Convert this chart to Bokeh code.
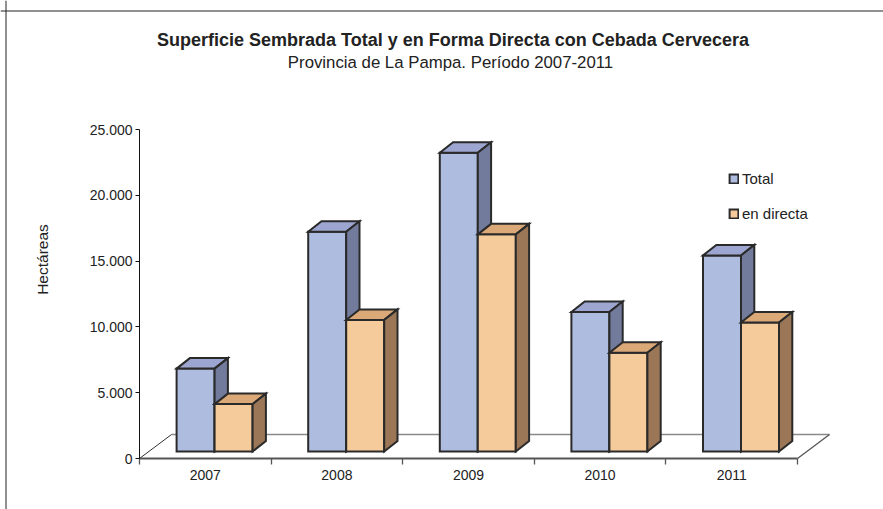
import numpy as np
from bokeh.plotting import figure
from bokeh.models import (Range1d, LinearAxis, FixedTicker, Label, Legend,
                          LegendItem, Span)
from bokeh.embed import file_html
from bokeh.resources import INLINE

# ---------------- data ----------------
years = ["2007", "2008", "2009", "2010", "2011"]
total = [6300, 16700, 22700, 10600, 14900]
directa = [3600, 10000, 16500, 7500, 9800]
y_ticks = [0, 5000, 10000, 15000, 20000, 25000]
y_tick_labels = ["0", "5.000", "10.000", "15.000", "20.000", "25.000"]

title = "Superficie Sembrada Total y en Forma Directa con Cebada Cervecera"
subtitle = "Provincia de La Pampa. Período 2007-2011"
series_names = ["Total", "en directa"]

# ---------------- layout constants (pixels on the canvas) ----------------
W, H = 883, 509
X0_PX = 139.0        # canvas x of category axis start
CAT_PX = 131.6       # pixels per category
Y0_PX = 458.0        # canvas y (from top) of value 0
YMAX = 25000
YSPAN_PX = 329.0
UPP = YMAX / YSPAN_PX  # value units per pixel

x_start = -X0_PX / CAT_PX
x_end = (W - X0_PX) / CAT_PX
y_start = -(H - Y0_PX) * UPP
y_end = Y0_PX * UPP


def px2x(cx):
    return (cx - X0_PX) / CAT_PX


def py2y(cy):
    return (Y0_PX - cy) * UPP


# 3-D geometry in data units
FDX, FDY = 32 / CAT_PX, 24 * UPP        # floor depth
BOX, BOY = 9.3 / CAT_PX, 7 * UPP        # bar front offset on floor
BDX, BDY = 13.3 / CAT_PX, 10.5 * UPP    # bar depth
BW = 38 / CAT_PX                        # bar width

FONT = "Liberation Sans"
TXT = "#222222"
EDGE = "#2a2a2a"

p = figure(width=W, height=H, output_backend="svg", toolbar_location=None,
           x_range=Range1d(x_start, x_end), y_range=Range1d(y_start, y_end),
           x_axis_location=None, y_axis_location=None, min_border=0,
           background_fill_color="white", border_fill_color="white",
           outline_line_color=None, tools="")
p.grid.visible = False

# outer frame of the chart (left and top edges)
p.add_layout(Span(location=px2x(5.5), dimension="height", line_color="#222222", line_width=1))
p.add_layout(Span(location=py2y(10.5), dimension="width", line_color="#222222", line_width=1))

n = len(years)
# floor
p.patch([0, n, n + FDX, FDX], [0, 0, FDY, FDY], fill_color="white", line_color=None)
p.line([FDX, n + FDX], [FDY, FDY], line_color="#8a8a8a", line_width=1.6)
p.line([0, FDX], [0, FDY], line_color="#333333", line_width=1)
p.line([n, n + FDX], [0, FDY], line_color="#555555", line_width=1.3)


def bar_faces(values, left_off):
    lefts, rights, bottoms, tops = [], [], [], []
    top_xs, top_ys, side_xs, side_ys = [], [], [], []
    for i, v in enumerate(values):
        l = i + 0.5 + BOX + left_off
        r = l + BW
        b = BOY
        t = BOY + v
        lefts.append(l); rights.append(r); bottoms.append(b); tops.append(t)
        top_xs.append([l, r, r + BDX, l + BDX])
        top_ys.append([t, t, t + BDY, t + BDY])
        side_xs.append([r, r + BDX, r + BDX, r])
        side_ys.append([b, b + BDY, t + BDY, t])
    return lefts, rights, bottoms, tops, top_xs, top_ys, side_xs, side_ys


styles = [
    (total, -BW, "#AEBDDF", "#9CA6D0", "#737B9D"),
    (directa, 0.0, "#F6CB9B", "#DBA878", "#9B7757"),
]
fronts = []
for vals, off, c_front, c_top, c_side in styles:
    l, r, b, t, tx, ty, sx, sy = bar_faces(vals, off)
    fr = p.quad(left=l, right=r, bottom=b, top=t, fill_color=c_front,
                line_color=EDGE, line_width=2, line_join="miter")
    p.patches(tx, ty, fill_color=c_top, line_color=EDGE, line_width=2, line_join="miter")
    p.patches(sx, sy, fill_color=c_side, line_color=EDGE, line_width=2, line_join="miter")
    fronts.append(fr)

# y axis
yaxis = LinearAxis(fixed_location=0, bounds=(0, YMAX),
                   ticker=FixedTicker(ticks=y_ticks),
                   major_label_overrides={k: v for k, v in zip(y_ticks, y_tick_labels)},
                   axis_line_color="#111111", axis_line_width=1,
                   major_tick_line_color="#111111", major_tick_out=4, major_tick_in=0,
                   minor_tick_out=0, minor_tick_in=0,
                   major_label_standoff=3,
                   major_label_text_font=FONT, major_label_text_font_size="14px",
                   major_label_text_color=TXT)
p.add_layout(yaxis, "left")

# x axis line with category boundary ticks
xaxis = LinearAxis(fixed_location=0, bounds=(0, n),
                   ticker=FixedTicker(ticks=list(range(n + 1))),
                   major_label_overrides={k: "" for k in range(n + 1)},
                   axis_line_color="#555555", axis_line_width=2,
                   major_tick_line_color="#555555", major_tick_line_width=1.3,
                   major_tick_out=6, major_tick_in=0,
                   minor_tick_out=0, minor_tick_in=0)
p.add_layout(xaxis, "below")

# year labels
centers = [i + 0.5 for i in range(n)]
xlab = LinearAxis(fixed_location=0, bounds=(0, n),
                  ticker=FixedTicker(ticks=centers),
                  major_label_overrides={c: y for c, y in zip(centers, years)},
                  axis_line_color=None, major_tick_line_color=None,
                  major_tick_out=0, major_tick_in=0, minor_tick_out=0, minor_tick_in=0,
                  major_label_standoff=11,
                  major_label_text_font=FONT, major_label_text_font_size="14px",
                  major_label_text_color=TXT)
p.add_layout(xlab, "below")

# titles
p.add_layout(Label(x=px2x(452.5), y=py2y(39), text=title, text_align="center",
                   text_baseline="alphabetic", text_font=FONT, text_font_style="bold",
                   text_font_size="18px", text_color=TXT))
p.add_layout(Label(x=px2x(450), y=py2y(62), text=subtitle, text_align="center",
                   text_baseline="alphabetic", text_font=FONT,
                   text_font_size="16.8px", text_color=TXT))
# y axis title
p.add_layout(Label(x=px2x(42), y=py2y(259), text="Hectáreas", text_align="center",
                   text_baseline="middle", angle=np.pi / 2, text_font=FONT,
                   text_font_size="15.5px", text_color=TXT))

# legend
legend = Legend(items=[LegendItem(label=series_names[0], renderers=[fronts[0]]),
                       LegendItem(label=series_names[1], renderers=[fronts[1]])],
                location=(728, H - 222), orientation="vertical",
                padding=0, margin=0, spacing=18,
                glyph_width=11, glyph_height=11, label_height=14, label_standoff=3,
                border_line_color=None, background_fill_alpha=0,
                label_text_font=FONT, label_text_font_size="15px",
                label_text_color=TXT)
p.add_layout(legend, "center")

open("out.html", "w").write(file_html(p, INLINE))
